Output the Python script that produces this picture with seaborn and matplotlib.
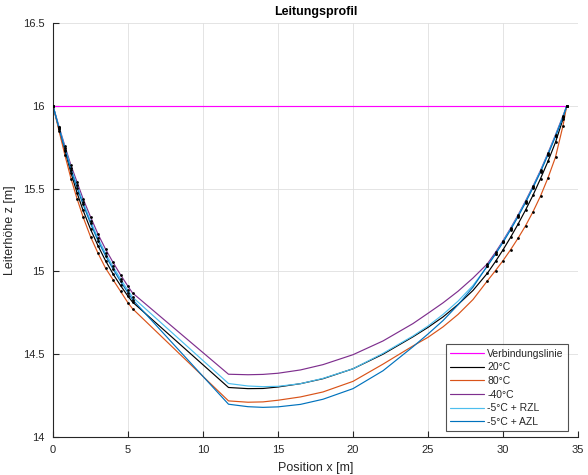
import numpy as np
import pandas as pd
import matplotlib
matplotlib.use("Agg")
import matplotlib.pyplot as plt
import seaborn as sns

# ---- data ----
series_names = ["20°C", "80°C", "-40°C", "-5°C + RZL", "-5°C + AZL"]
line_label = "Verbindungslinie"

x_line = [0.0, 34.25]
z_line = [16.0, 16.0]

x_left = [0, 0.4, 0.8, 1.2, 1.6, 2.0, 2.5, 3.0, 3.5, 4.0, 4.5, 5.0, 5.3]
x_mid = [11.7, 13, 14, 15, 16.5, 18, 20, 22, 24, 25, 26, 27, 28]
x_right = [28.95, 29.5, 30, 30.5, 31, 31.5, 32, 32.5, 33, 33.5, 34, 34.25]

z_20_left = [16.0, 15.86, 15.725, 15.595, 15.475, 15.37, 15.255, 15.155, 15.065, 14.985, 14.915, 14.85, 14.815]
z_20_mid = [14.299, 14.292, 14.293, 14.302, 14.322, 14.352, 14.412, 14.5, 14.605, 14.662, 14.725, 14.8, 14.885]
z_20_right = [14.988, 15.06, 15.13, 15.205, 15.285, 15.37, 15.46, 15.56, 15.665, 15.78, 15.92, 16.0]

z_80_left = [16.0, 15.85, 15.70, 15.56, 15.44, 15.33, 15.21, 15.11, 15.02, 14.95, 14.88, 14.81, 14.775]
z_80_mid = [14.218, 14.21, 14.212, 14.222, 14.242, 14.272, 14.336, 14.44, 14.55, 14.602, 14.665, 14.74, 14.83]
z_80_right = [14.942, 15.005, 15.065, 15.13, 15.2, 15.275, 15.36, 15.455, 15.565, 15.69, 15.88, 16.0]

z_m40_left = [16.0, 15.875, 15.755, 15.64, 15.54, 15.44, 15.33, 15.225, 15.135, 15.055, 14.98, 14.91, 14.87]
z_m40_mid = [14.379, 14.376, 14.378, 14.385, 14.405, 14.437, 14.497, 14.58, 14.685, 14.747, 14.81, 14.88, 14.96]
z_m40_right = [15.045, 15.115, 15.185, 15.26, 15.34, 15.425, 15.515, 15.61, 15.715, 15.825, 15.94, 16.0]

z_rzl_left = [16.0, 15.87, 15.745, 15.625, 15.52, 15.42, 15.305, 15.2, 15.11, 15.03, 14.955, 14.885, 14.845]
z_rzl_mid = [14.323, 14.308, 14.304, 14.306, 14.322, 14.354, 14.412, 14.505, 14.61, 14.67, 14.74, 14.82, 14.915]
z_rzl_right = [15.03, 15.105, 15.18, 15.255, 15.335, 15.42, 15.51, 15.605, 15.71, 15.82, 15.935, 16.0]

z_azl_left = [16.0, 15.865, 15.735, 15.61, 15.505, 15.405, 15.29, 15.185, 15.095, 15.015, 14.94, 14.87, 14.83]
z_azl_mid = [14.198, 14.183, 14.179, 14.182, 14.197, 14.228, 14.292, 14.4, 14.545, 14.622, 14.703, 14.798, 14.905]
z_azl_right = [15.033, 15.105, 15.175, 15.25, 15.33, 15.415, 15.505, 15.6, 15.705, 15.815, 15.93, 16.0]

colors = {
    line_label: "#FF00FF",
    "20°C": "#000000",
    "80°C": "#D95319",
    "-40°C": "#7E2F8E",
    "-5°C + RZL": "#4DBEEE",
    "-5°C + AZL": "#0072BD",
}

x_ticks = [0, 5, 10, 15, 20, 25, 30, 35]
y_ticks = [14, 14.5, 15, 15.5, 16, 16.5]
y_tick_labels = ["14", "14.5", "15", "15.5", "16", "16.5"]

# ---- build tables ----
curves = {
    "20°C": (z_20_left, z_20_mid, z_20_right),
    "80°C": (z_80_left, z_80_mid, z_80_right),
    "-40°C": (z_m40_left, z_m40_mid, z_m40_right),
    "-5°C + RZL": (z_rzl_left, z_rzl_mid, z_rzl_right),
    "-5°C + AZL": (z_azl_left, z_azl_mid, z_azl_right),
}

rows = []
for i, (xv, zv) in enumerate(zip(x_line, z_line)):
    rows.append((line_label, i, xv, zv))
dot_rows = []
for name, (zl, zm, zr) in curves.items():
    xs = list(x_left) + list(x_mid) + list(x_right)
    zs = list(zl) + list(zm) + list(zr)
    for i, (xv, zv) in enumerate(zip(xs, zs)):
        rows.append((name, i, xv, zv))
    for xv, zv in zip(list(x_left) + list(x_right), list(zl) + list(zr)):
        dot_rows.append((xv, zv))

df = pd.DataFrame(rows, columns=["series", "order", "x", "z"])
dots = pd.DataFrame(dot_rows, columns=["x", "z"])

# ---- plot ----
sns.set_theme(style="white")
plt.rcParams["font.family"] = ["Liberation Sans", "DejaVu Sans"]

fig = plt.figure(figsize=(5.88, 4.75), dpi=100)
ax = fig.add_axes([53 / 588, 1 - 437 / 475, (578 - 53) / 588, (437 - 23) / 475])

hue_order = [line_label] + series_names
sns.lineplot(data=df, x="x", y="z", hue="series", hue_order=hue_order,
             palette=colors, units="series", estimator=None, sort=False,
             linewidth=0.85, ax=ax)
sns.scatterplot(data=dots, x="x", y="z", color="black", s=4, linewidth=0,
                ax=ax, legend=False, zorder=5)

ax.set_xlim(0, 35)
ax.set_ylim(14, 16.5)
ax.set_xticks(x_ticks)
ax.set_xticklabels([str(t) for t in x_ticks])
ax.set_yticks(y_ticks)
ax.set_yticklabels(y_tick_labels)
ax.grid(True, color="#DFDFDF", linewidth=0.6)
ax.set_axisbelow(True)
for s in ["top", "right"]:
    ax.spines[s].set_visible(False)
for s in ["left", "bottom"]:
    ax.spines[s].set_color("#262626")
    ax.spines[s].set_linewidth(0.8)
ax.tick_params(direction="in", length=4, width=0.8, colors="#262626",
               labelsize=8, left=True, bottom=True, pad=6)

ax.set_xlabel("Position x [m]", fontsize=9, color="#262626", labelpad=5)
ax.set_ylabel("Leiterhöhe z [m]", fontsize=9, color="#262626", labelpad=5)
ax.set_title("Leitungsprofil", fontsize=9, fontweight="bold", color="black", pad=6)

handles, labels = ax.get_legend_handles_labels()
leg = ax.legend(handles, labels, loc="lower right", fontsize=7.5,
                bbox_to_anchor=(568 / 588, 1 - 431 / 475),
                bbox_transform=fig.transFigure,
                frameon=True, fancybox=False, edgecolor="#262626",
                handlelength=3.3, borderpad=0.4, labelspacing=0.35,
                handletextpad=0.3, borderaxespad=0.0)
leg.get_frame().set_linewidth(0.8)

fig.savefig("out.png", dpi=100)
